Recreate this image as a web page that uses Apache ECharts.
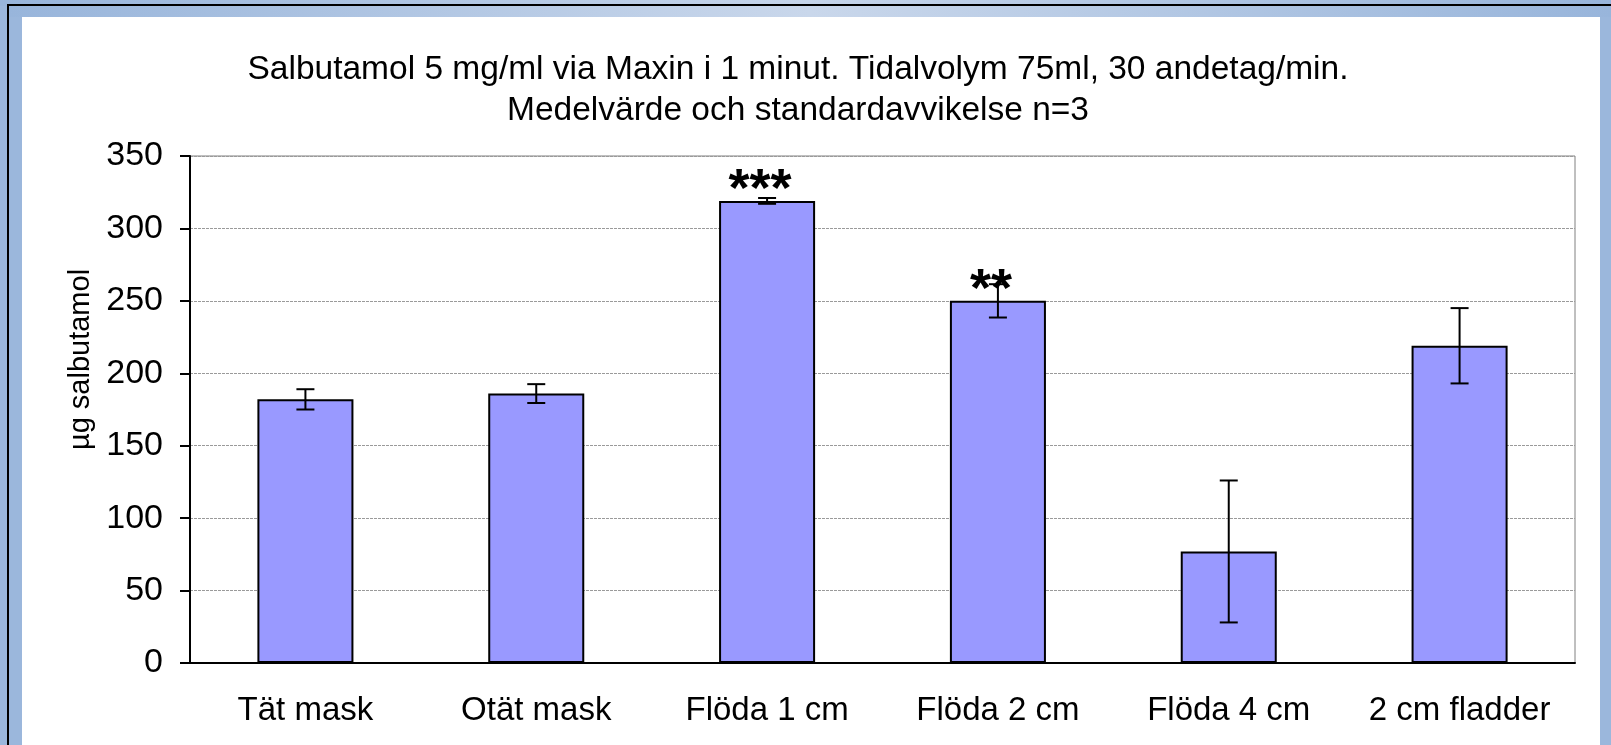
<!DOCTYPE html>
<html>
<head>
<meta charset="utf-8">
<script src="https://cdn.jsdelivr.net/npm/echarts@6/dist/echarts.min.js"></script>
<style>
  html, body { margin: 0; padding: 0; }
  body { width: 1611px; height: 745px; overflow: hidden; position: relative;
         background: linear-gradient(to right, #98b5db, #c6d5ea 50%, #98b5db); }
  #side { position: absolute; left: 0; top: 6px; right: 0; bottom: 0; background: #9bb7dc; }
  #strip { position: absolute; left: 9px; top: 6px; right: 0; height: 11px;
           background: linear-gradient(to right, #98b5db, #c9d7eb 50%, #98b5db); }
  #frame { position: absolute; left: 7px; top: 4px; right: 0; bottom: 0;
           border-left: 2px solid #000; border-top: 2px solid #000; }
  #main { position: absolute; left: 22px; top: 17px; width: 1578px; height: 728px; background: #fff; }
</style>
</head>
<body>
<div id="side"></div>
<div id="strip"></div>
<div id="frame"></div>
<div id="main"></div>
<script>
var categories = ['Tät mask', 'Otät mask', 'Flöda 1 cm', 'Flöda 2 cm', 'Flöda 4 cm', '2 cm fladder'];
var means = [182, 186, 319, 250, 77, 219];
var stdevs = [7, 6.5, 2, 11.5, 49, 26];
var stars = ['', '', '***', '**', '', ''];

var chartDom = document.getElementById('main');
var myChart = echarts.init(chartDom);
var option;

var font = '"Liberation Sans", Arial, sans-serif';

var errData = categories.map(function (c, i) {
    return [i, means[i], stdevs[i]];
});

option = {
    animation: false,
    textStyle: { fontFamily: font },
    title: {
        text: 'Salbutamol 5 mg/ml via Maxin i 1 minut. Tidalvolym 75ml, 30 andetag/min.\nMedelvärde och standardavvikelse n=3',
        left: 771,
        top: 27,
        textAlign: 'center',
        textStyle: {
            fontFamily: font,
            fontSize: 33.5,
            fontWeight: 'normal',
            color: '#000',
            lineHeight: 41
        }
    },
    grid: {
        left: 168,
        right: 25,
        top: 139,
        bottom: 82,
        show: true,
        borderColor: '#808080',
        borderWidth: 1
    },
    xAxis: {
        type: 'category',
        data: categories,
        axisLine: { lineStyle: { color: '#000', width: 2 } },
        axisTick: { length: 10, lineStyle: { color: '#000', width: 2 } },
        axisLabel: { color: '#000', fontSize: 33, margin: 31, interval: 0, fontFamily: font }
    },
    yAxis: {
        type: 'value',
        min: 0,
        max: 350,
        interval: 50,
        name: 'µg salbutamol',
        nameLocation: 'middle',
        nameGap: 92,
        nameTextStyle: { color: '#000', fontSize: 29, fontFamily: font, padding: [0, 0, 0, 100] },
        axisLine: { show: true, lineStyle: { color: '#000', width: 2 } },
        axisTick: { show: true, length: 10, lineStyle: { color: '#000', width: 2 } },
        axisLabel: { color: '#000', fontSize: 34, margin: 27, fontFamily: font, padding: [3, 0, 0, 0] },
        splitLine: { lineStyle: { color: '#9a9a9a', width: 1, type: [3, 1] } }
    },
    series: [
        {
            name: 'Medelvärde',
            type: 'bar',
            data: means,
            barWidth: '41.6%',
            itemStyle: { color: '#9999ff', borderColor: '#000', borderWidth: 2 }
        },
        {
            name: 'SD',
            type: 'custom',
            data: errData,
            encode: { x: 0, y: 1 },
            z: 5,
            renderItem: function (params, api) {
                var i = api.value(0);
                var m = api.value(1);
                var sd = api.value(2);
                var hi = api.coord([i, m + sd]);
                var lo = api.coord([i, m - sd]);
                var top = api.coord([i, m]);
                var cap = 9;
                var st = { stroke: '#000', lineWidth: 2 };
                var children = [
                    { type: 'line', shape: { x1: hi[0], y1: hi[1], x2: lo[0], y2: lo[1] }, style: st },
                    { type: 'line', shape: { x1: hi[0] - cap, y1: hi[1], x2: hi[0] + cap, y2: hi[1] }, style: st },
                    { type: 'line', shape: { x1: lo[0] - cap, y1: lo[1], x2: lo[0] + cap, y2: lo[1] }, style: st }
                ];
                if (stars[i]) {
                    children.push({
                        type: 'text',
                        x: top[0] - 7,
                        y: top[1] + 17,
                        style: {
                            text: stars[i],
                            font: 'bold 54px ' + font,
                            fill: '#000',
                            textAlign: 'center',
                            textVerticalAlign: 'bottom'
                        }
                    });
                }
                return { type: 'group', children: children };
            }
        }
    ]
};

option && myChart.setOption(option);
</script>
</body>
</html>
